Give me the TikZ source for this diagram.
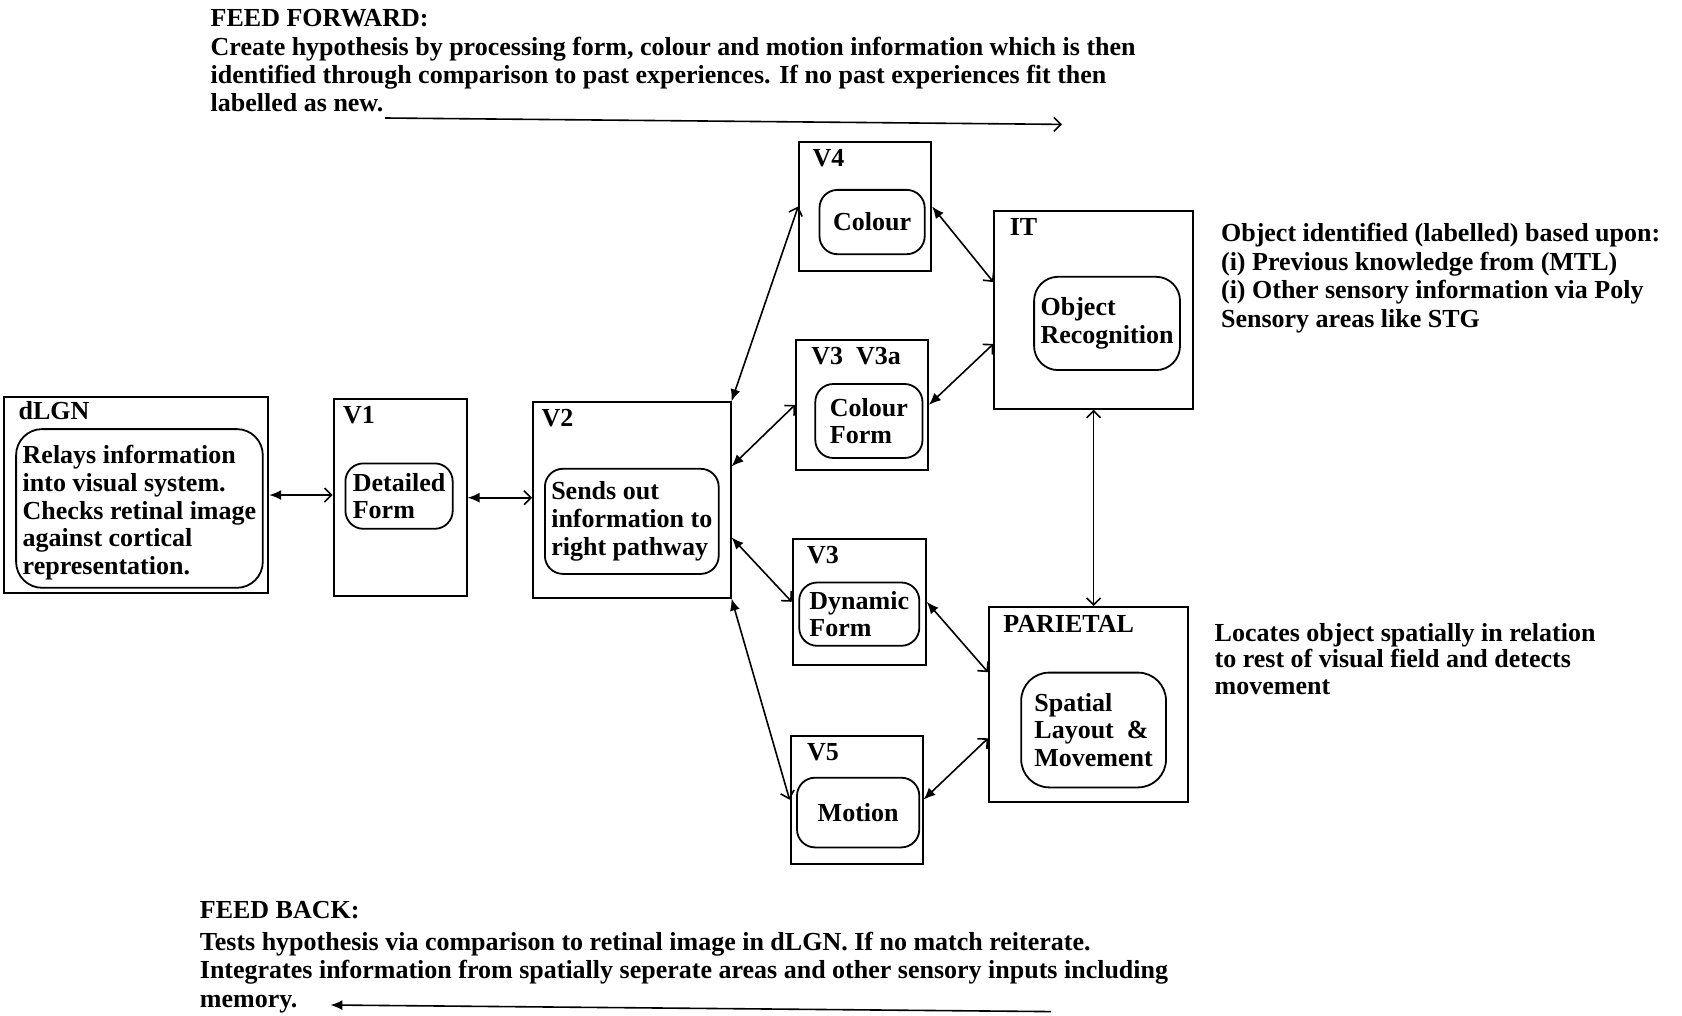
\documentclass[tikz,border=0pt]{standalone}
\usepackage{fontspec}
\setmainfont{Liberation Serif}
\usetikzlibrary{arrows.meta,calc,fit}

\begin{document}
\begin{tikzpicture}[x=0.5pt,y=-0.5pt,
  font=\bfseries\fontsize{13}{13.8}\selectfont,
  obox/.style={draw, line width=1pt, inner sep=0pt},
  ibox/.style={draw, line width=0.9pt, rounded corners=9pt, inner sep=0pt},
  itxt/.style={align=left, inner sep=0pt},
  ttl/.style={anchor=base west, inner sep=0pt},
  note/.style={align=left, anchor=base west, inner sep=0pt},
  solidtip/.tip={Latex[length=6pt,width=5pt]},
  opentip/.tip={Straight Barb[length=3.5pt,width=7pt,line width=0.8pt]},
  conn/.style={line width=0.8pt, solidtip-opentip},
  conn2/.style={line width=0.8pt, opentip-opentip},
]
\useasboundingbox (0,0) rectangle (1682,1016);

% ---------- areas (outer boxes) ----------
\node[obox, fit={(4.3,396.9) (268.2,593.2)}] (dlgn) {};
\node[obox, fit={(333.6,399.0) (466.6,596.4)}] (v1) {};
\node[obox, fit={(533.1,402.3) (730.5,597.5)}] (v2) {};
\node[obox, fit={(799.2,141.6) (931.1,271.4)}] (v4) {};
\node[obox, fit={(796.0,340.0) (927.9,469.8)}] (v3a) {};
\node[obox, fit={(792.7,538.5) (925.7,665.1)}] (v3) {};
\node[obox, fit={(790.6,735.9) (922.5,863.5)}] (v5) {};
\node[obox, fit={(994.4,211.3) (1192.8,408.7)}] (it) {};
\node[obox, fit={(989.0,607.1) (1187.5,802.4)}] (par) {};

% ---------- area titles ----------
\node[ttl] (tdlgn) at ([shift={(15,23.5)}]dlgn.north west) {dLGN};
\node[ttl] (tv1) at ([shift={(10,25.5)}]v1.north west) {V1};
\node[ttl] (tv2) at ([shift={(9,25.5)}]v2.north west) {V2};
\node[ttl] (tv4) at ([shift={(14,25.5)}]v4.north west) {V4};
\node[ttl] (tv3a) at ([shift={(16,25.5)}]v3a.north west) {V3\ \ V3a};
\node[ttl] (tv3) at ([shift={(15,25.5)}]v3.north west) {V3};
\node[ttl] (tv5) at ([shift={(17,25.5)}]v5.north west) {V5};
\node[ttl] (tit) at ([shift={(16,25.5)}]it.north west) {IT};
\node[ttl] (tpar) at ([shift={(15,26.5)}]par.north west) {PARIETAL};

% ---------- function boxes ----------
\node[ibox, rounded corners=13pt, fit={(16.1,429.1) (262.8,587.8)}] (dlgnin) {};
\node[ibox, fit={(345.4,463.4) (452.7,528.8)}] (v1in) {};
\node[ibox, fit={(544.9,468.8) (718.7,573.9)}] (v2in) {};
\node[ibox, fit={(819.5,189.9) (924.7,254.2)}] (v4in) {};
\node[ibox, fit={(815.3,384.0) (922.5,458.0)}] (v3ain) {};
\node[ibox, fit={(799.2,582.5) (919.3,645.8)}] (v3in) {};
\node[ibox, fit={(797.0,777.7) (919.3,847.4)}] (v5in) {};
\node[ibox, rounded corners=12pt, fit={(1034.1,276.8) (1180.0,370.1)}] (itin) {};
\node[ibox, rounded corners=14pt, fit={(1021.2,672.6) (1166.0,787.4)}] (parin) {};

\node[itxt] (xdlgn) at ([yshift=-2.1pt]dlgnin.center) {Relays information\\into visual system.\\Checks retinal image\\against cortical\\representation.};
\node[itxt] (xv1) at (v1in) {Detailed\\Form};
\node[itxt] (xv2) at (v2in) {Sends out\\information to\\right pathway};
\node[itxt] (xv4) at (v4in) {Colour};
\node[itxt] (xv3a) at (v3ain) {Colour\\Form};
\node[itxt] (xv3) at (v3in) {Dynamic\\Form};
\node[itxt] (xv5) at (v5in) {Motion};
\node[itxt] (xit) at (itin) {Object\\Recognition};
\node[itxt] (xpar) at (parin) {Spatial\\Layout\ \ \&\\Movement};

% ---------- pathways ----------
\draw[conn] (dlgn.east) -- (dlgn.east -| v1.west);
\draw[conn] (v1.east) -- (v1.east -| v2.west);
\draw[conn] (v2.north east) -- (v4.west);
\draw[conn] ($(v2.north east)!0.33!(v2.south east)$) -- (v3a.west);
\draw[conn] ($(v2.north east)!0.69!(v2.south east)$) -- (v3.west);
\draw[conn] (v2.south east) -- (v5.west);
\draw[conn] (v4.east) -- ($(it.north west)!0.36!(it.south west)$);
\draw[conn] (v3a.east) -- ($(it.north west)!0.67!(it.south west)$);
\draw[conn] (v3.east) -- ($(par.north west)!0.335!(par.south west)$);
\draw[conn] (v5.east) -- ($(par.north west)!0.67!(par.south west)$);
\draw[conn2] (it.south) -- (it.south |- par.north);

% ---------- notes (anchored at the baseline of their last line) ----------
\node[note, font=\bfseries\fontsize{13}{14.3}\selectfont] (itnote) at (1220.7,327.2)
  {Object identified (labelled) based upon:\\(i) Previous knowledge from (MTL)\\(i) Other sensory information via Poly\\Sensory areas like STG};
\node[note, font=\bfseries\fontsize{13}{13.15}\selectfont] (parnote) at (1214.3,694.1)
  {Locates object spatially in relation\\to rest of visual field and detects\\movement};

% ---------- feed forward ----------
\node[note] (ffhead) at (210.3,26.8) {FEED FORWARD:};
\node[note, font=\bfseries\fontsize{13}{14}\selectfont] (fftext) at (210.3,112)
  {Create hypothesis by processing form, colour and motion information which is then\\identified through comparison to past experiences. If no past experiences fit then\\labelled as new.};
\coordinate (ffa) at (385,118);
\coordinate (ffb) at (1062,124.4);
\draw[line width=0.8pt, -opentip] (ffa) -- (ffb);

% ---------- feed back ----------
\node[note] (fbhead) at (199.5,918) {FEED BACK:};
\node[note, font=\bfseries\fontsize{13}{14.3}\selectfont] (fbtext) at (199.5,1007.3)
  {Tests hypothesis via comparison to retinal image in dLGN. If no match reiterate.\\Integrates information from spatially seperate areas and other sensory inputs including\\memory.};
\coordinate (fba) at (1051,1011.6);
\coordinate (fbb) at (330.4,1005);
\draw[line width=0.8pt, -solidtip] (fba) -- (fbb);
\end{tikzpicture}
\end{document}
